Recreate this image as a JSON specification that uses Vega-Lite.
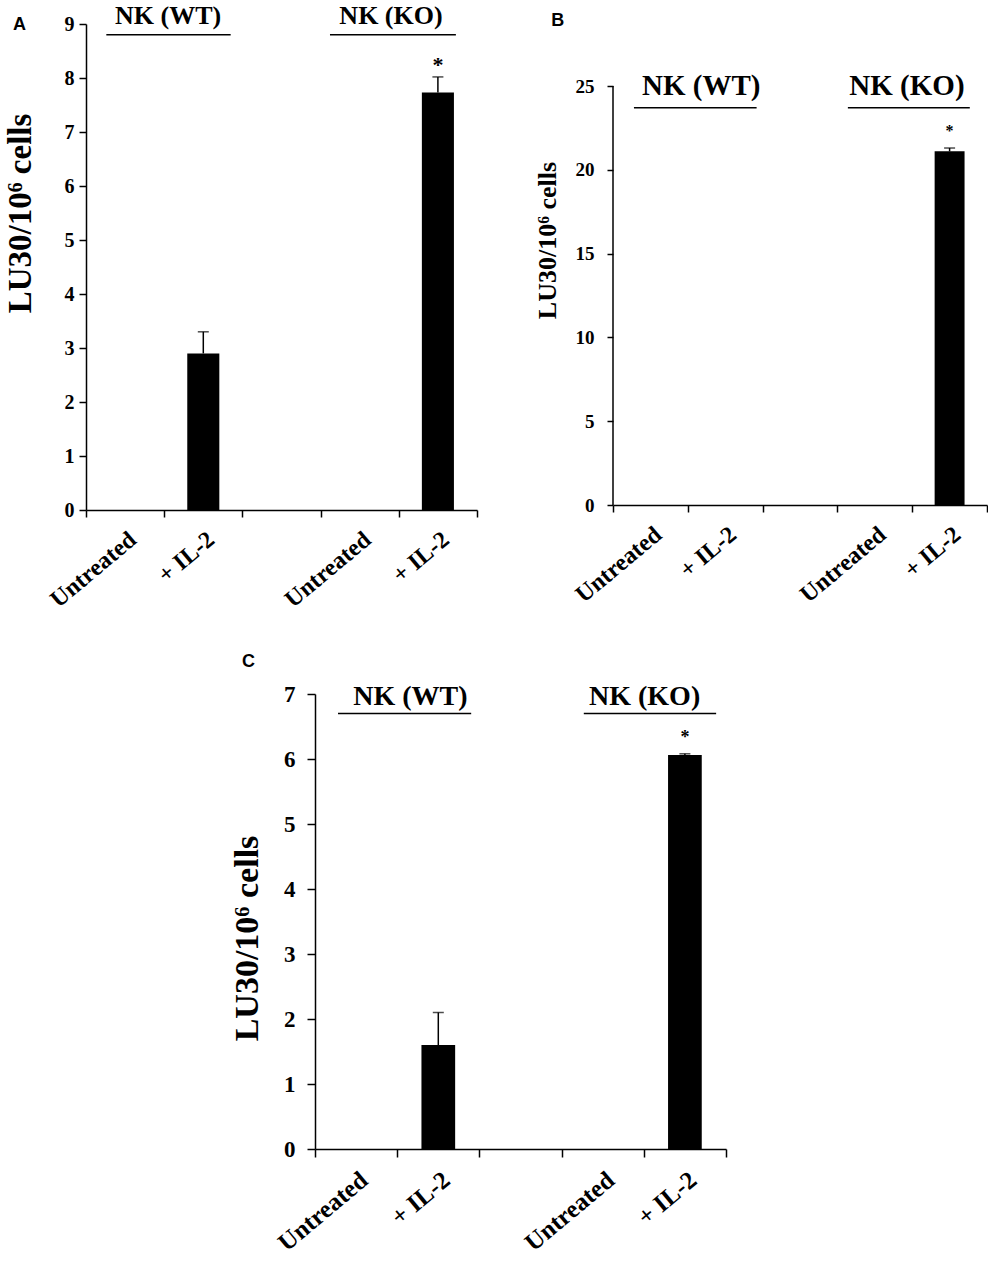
{
  "$schema": "https://vega.github.io/schema/vega-lite/v6.json",
  "background": "white",
  "padding": {"left": 4, "top": 2, "right": 0, "bottom": 0},
  "config": {
    "view": {"stroke": null},
    "font": "Liberation Serif",
    "axis": {
      "grid": false,
      "domainColor": "black",
      "domainWidth": 1.5,
      "tickColor": "black",
      "tickWidth": 1.5,
      "labelColor": "black",
      "titleColor": "black",
      "labelFont": "Liberation Serif",
      "titleFont": "Liberation Serif",
      "labelFontWeight": "bold",
      "titleFontWeight": "bold"
    }
  },
  "datasets": {
    "a": [
      {"key": "WT|Untreated", "value": 0},
      {"key": "WT|+ IL-2", "value": 2.9, "upper": 3.3},
      {"key": "KO|Untreated", "value": 0},
      {"key": "KO|+ IL-2", "value": 7.73, "upper": 8.02, "star": 8.25}
    ],
    "a_groups": [
      {"group": "NK (WT)", "tx": 1.05, "ty": 9.15, "x1": 0.26, "x2": 1.85, "line": 8.8},
      {"group": "NK (KO)", "tx": 3.9, "ty": 9.15, "x1": 3.12, "x2": 4.73, "line": 8.8}
    ],
    "b": [
      {"key": "WT|Untreated", "value": 0},
      {"key": "WT|+ IL-2", "value": 0},
      {"key": "KO|Untreated", "value": 0},
      {"key": "KO|+ IL-2", "value": 21.1, "upper": 21.3, "star": 22.3}
    ],
    "b_groups": [
      {"group": "NK (WT)", "tx": 1.18, "ty": 25.0, "x1": 0.28, "x2": 1.92, "line": 23.7},
      {"group": "NK (KO)", "tx": 3.93, "ty": 25.0, "x1": 3.14, "x2": 4.77, "line": 23.7}
    ],
    "b_axis": [
      {"x": 0, "y": 0, "y2": 25}
    ],
    "c": [
      {"key": "WT|Untreated", "value": 0},
      {"key": "WT|+ IL-2", "value": 1.6, "upper": 2.1},
      {"key": "KO|Untreated", "value": 0},
      {"key": "KO|+ IL-2", "value": 6.06, "upper": 6.08, "star": 6.32}
    ],
    "c_groups": [
      {"group": "NK (WT)", "tx": 1.16, "ty": 6.96, "x1": 0.28, "x2": 1.9, "line": 6.7},
      {"group": "NK (KO)", "tx": 4.01, "ty": 6.96, "x1": 3.27, "x2": 4.88, "line": 6.7}
    ]
  },
  "spacing": 40,
  "vconcat": [
    {
      "spacing": 56,
      "hconcat": [
        {
          "width": 391,
          "height": 486,
          "resolve": {"scale": {"x": "independent"}},
          "layer": [
            {
              "data": {"name": "a"},
              "encoding": {
                "x": {
                  "field": "key",
                  "type": "nominal",
                  "scale": {"domain": ["WT|Untreated", "WT|+ IL-2", "gap|", "KO|Untreated", "KO|+ IL-2"], "paddingInner": 0, "paddingOuter": 0},
                  "axis": {"title": null, "labelAngle": -40, "labelAlign": "right", "labelBaseline": "top", "labelExpr": "split(datum.value, '|')[1]", "tickBand": "extent", "labelFontSize": 24, "tickSize": 7, "labelPadding": 10}
                }
              },
              "layer": [
                {
                  "mark": {"type": "bar", "color": "black", "width": {"band": 0.41}},
                  "encoding": {
                    "y": {
                      "field": "value",
                      "type": "quantitative",
                      "scale": {"domain": [0, 9], "nice": false},
                      "axis": {"title": "LU30/10⁶ cells", "values": [0, 1, 2, 3, 4, 5, 6, 7, 8, 9], "format": "d", "titleFontSize": 33, "titleX": -66, "titleY": 189, "titleAngle": -90, "titleAlign": "center", "titleBaseline": "middle", "labelFontSize": 20, "tickSize": 7, "labelPadding": 5}
                    }
                  }
                },
                {
                  "transform": [{"filter": "isValid(datum.upper)"}],
                  "mark": {"type": "rule", "color": "black", "strokeWidth": 1.5},
                  "encoding": {"y": {"field": "value", "type": "quantitative"}, "y2": {"field": "upper"}}
                },
                {
                  "transform": [{"filter": "isValid(datum.upper)"}],
                  "mark": {"type": "tick", "color": "black", "thickness": 1.5, "size": 11},
                  "encoding": {"y": {"field": "upper", "type": "quantitative"}}
                },
                {
                  "transform": [{"filter": "isValid(datum.star)"}],
                  "mark": {"type": "text", "text": "*", "fontWeight": "bold", "fontSize": 22, "baseline": "middle", "color": "black"},
                  "encoding": {"y": {"field": "star", "type": "quantitative"}}
                }
              ]
            },
            {
              "data": {"name": "a_groups"},
              "layer": [
                {
                  "mark": {"type": "rule", "color": "black", "strokeWidth": 1.5},
                  "encoding": {
                    "x": {"field": "x1", "type": "quantitative", "scale": {"domain": [0, 5], "nice": false}, "axis": null},
                    "x2": {"field": "x2"},
                    "y": {"field": "line", "type": "quantitative"}
                  }
                },
                {
                  "mark": {"type": "text", "fontWeight": "bold", "fontSize": 26, "baseline": "middle", "align": "center", "color": "black"},
                  "encoding": {
                    "x": {"field": "tx", "type": "quantitative", "scale": {"domain": [0, 5], "nice": false}, "axis": null},
                    "y": {"field": "ty", "type": "quantitative"},
                    "text": {"field": "group"}
                  }
                }
              ]
            },
            {
              "data": {"values": [{"panel": "A", "px": -0.85, "py": 8.98}]},
              "mark": {"type": "text", "font": "Liberation Sans", "fontWeight": "bold", "fontSize": 18, "baseline": "middle", "align": "center", "color": "black"},
              "encoding": {
                "x": {"field": "px", "type": "quantitative", "scale": {"domain": [0, 5], "nice": false}, "axis": null},
                "y": {"field": "py", "type": "quantitative"},
                "text": {"field": "panel"}
              }
            }
          ]
        },
        {
          "width": 374,
          "height": 481,
          "resolve": {"scale": {"x": "independent"}},
          "layer": [
            {
              "data": {"name": "b"},
              "encoding": {
                "x": {
                  "field": "key",
                  "type": "nominal",
                  "scale": {"domain": ["WT|Untreated", "WT|+ IL-2", "gap|", "KO|Untreated", "KO|+ IL-2"], "paddingInner": 0, "paddingOuter": 0},
                  "axis": {"title": null, "labelAngle": -40, "labelAlign": "right", "labelBaseline": "top", "labelExpr": "split(datum.value, '|')[1]", "tickBand": "extent", "labelFontSize": 24, "tickSize": 7, "labelPadding": 10}
                }
              },
              "layer": [
                {
                  "mark": {"type": "bar", "color": "black", "width": {"band": 0.4}},
                  "encoding": {
                    "y": {
                      "field": "value",
                      "type": "quantitative",
                      "scale": {"domain": [0, 28.7], "nice": false},
                      "axis": {"title": "LU30/10⁶ cells", "values": [0, 5, 10, 15, 20, 25], "format": "d", "domain": false, "titleFontSize": 26, "titleX": -66, "titleY": 216, "titleAngle": -90, "titleAlign": "center", "titleBaseline": "middle", "labelFontSize": 19, "tickSize": 6, "labelPadding": 13}
                    }
                  }
                },
                {
                  "transform": [{"filter": "isValid(datum.upper)"}],
                  "mark": {"type": "rule", "color": "black", "strokeWidth": 1.5},
                  "encoding": {"y": {"field": "value", "type": "quantitative"}, "y2": {"field": "upper"}}
                },
                {
                  "transform": [{"filter": "isValid(datum.upper)"}],
                  "mark": {"type": "tick", "color": "black", "thickness": 1.5, "size": 11},
                  "encoding": {"y": {"field": "upper", "type": "quantitative"}}
                },
                {
                  "transform": [{"filter": "isValid(datum.star)"}],
                  "mark": {"type": "text", "text": "*", "fontWeight": "bold", "fontSize": 16, "baseline": "middle", "color": "black"},
                  "encoding": {"y": {"field": "star", "type": "quantitative"}}
                }
              ]
            },
            {
              "data": {"name": "b_axis"},
              "mark": {"type": "rule", "color": "black", "strokeWidth": 1.5},
              "encoding": {
                "x": {"field": "x", "type": "quantitative", "scale": {"domain": [0, 5], "nice": false}, "axis": null},
                "y": {"field": "y", "type": "quantitative"},
                "y2": {"field": "y2"}
              }
            },
            {
              "data": {"name": "b_groups"},
              "layer": [
                {
                  "mark": {"type": "rule", "color": "black", "strokeWidth": 1.5},
                  "encoding": {
                    "x": {"field": "x1", "type": "quantitative", "scale": {"domain": [0, 5], "nice": false}, "axis": null},
                    "x2": {"field": "x2"},
                    "y": {"field": "line", "type": "quantitative"}
                  }
                },
                {
                  "mark": {"type": "text", "fontWeight": "bold", "fontSize": 29, "baseline": "middle", "align": "center", "color": "black"},
                  "encoding": {
                    "x": {"field": "tx", "type": "quantitative", "scale": {"domain": [0, 5], "nice": false}, "axis": null},
                    "y": {"field": "ty", "type": "quantitative"},
                    "text": {"field": "group"}
                  }
                }
              ]
            },
            {
              "data": {"values": [{"panel": "B", "px": -0.74, "py": 28.9}]},
              "mark": {"type": "text", "font": "Liberation Sans", "fontWeight": "bold", "fontSize": 18, "baseline": "middle", "align": "center", "color": "black"},
              "encoding": {
                "x": {"field": "px", "type": "quantitative", "scale": {"domain": [0, 5], "nice": false}, "axis": null},
                "y": {"field": "py", "type": "quantitative"},
                "text": {"field": "panel"}
              }
            }
          ]
        }
      ]
    },
    {
      "spacing": 0,
      "hconcat": [
        {
          "width": 144,
          "height": 10,
          "data": {"values": []},
          "mark": {"type": "point", "opacity": 0},
          "encoding": {}
        },
        {
          "width": 411,
          "height": 455,
          "resolve": {"scale": {"x": "independent"}},
          "layer": [
            {
              "data": {"name": "c"},
              "encoding": {
                "x": {
                  "field": "key",
                  "type": "nominal",
                  "scale": {"domain": ["WT|Untreated", "WT|+ IL-2", "gap|", "KO|Untreated", "KO|+ IL-2"], "paddingInner": 0, "paddingOuter": 0},
                  "axis": {"title": null, "labelAngle": -40, "labelAlign": "right", "labelBaseline": "top", "labelExpr": "split(datum.value, '|')[1]", "tickBand": "extent", "labelFontSize": 25, "tickSize": 8, "labelPadding": 10}
                }
              },
              "layer": [
                {
                  "mark": {"type": "bar", "color": "black", "width": {"band": 0.41}},
                  "encoding": {
                    "y": {
                      "field": "value",
                      "type": "quantitative",
                      "scale": {"domain": [0, 7], "nice": false},
                      "axis": {"title": "LU30/10⁶ cells", "values": [0, 1, 2, 3, 4, 5, 6, 7], "format": "d", "titleFontSize": 34, "titleX": -68, "titleY": 244, "titleAngle": -90, "titleAlign": "center", "titleBaseline": "middle", "labelFontSize": 23, "tickSize": 8, "labelPadding": 12}
                    }
                  }
                },
                {
                  "transform": [{"filter": "isValid(datum.upper)"}],
                  "mark": {"type": "rule", "color": "black", "strokeWidth": 1.5},
                  "encoding": {"y": {"field": "value", "type": "quantitative"}, "y2": {"field": "upper"}}
                },
                {
                  "transform": [{"filter": "isValid(datum.upper)"}],
                  "mark": {"type": "tick", "color": "black", "thickness": 1.5, "size": 11},
                  "encoding": {"y": {"field": "upper", "type": "quantitative"}}
                },
                {
                  "transform": [{"filter": "isValid(datum.star)"}],
                  "mark": {"type": "text", "text": "*", "fontWeight": "bold", "fontSize": 18, "baseline": "middle", "color": "black"},
                  "encoding": {"y": {"field": "star", "type": "quantitative"}}
                }
              ]
            },
            {
              "data": {"name": "c_groups"},
              "layer": [
                {
                  "mark": {"type": "rule", "color": "black", "strokeWidth": 1.5},
                  "encoding": {
                    "x": {"field": "x1", "type": "quantitative", "scale": {"domain": [0, 5], "nice": false}, "axis": null},
                    "x2": {"field": "x2"},
                    "y": {"field": "line", "type": "quantitative"}
                  }
                },
                {
                  "mark": {"type": "text", "fontWeight": "bold", "fontSize": 28, "baseline": "middle", "align": "center", "color": "black"},
                  "encoding": {
                    "x": {"field": "tx", "type": "quantitative", "scale": {"domain": [0, 5], "nice": false}, "axis": null},
                    "y": {"field": "ty", "type": "quantitative"},
                    "text": {"field": "group"}
                  }
                }
              ]
            },
            {
              "data": {"values": [{"panel": "C", "px": -0.81, "py": 7.5}]},
              "mark": {"type": "text", "font": "Liberation Sans", "fontWeight": "bold", "fontSize": 18, "baseline": "middle", "align": "center", "color": "black"},
              "encoding": {
                "x": {"field": "px", "type": "quantitative", "scale": {"domain": [0, 5], "nice": false}, "axis": null},
                "y": {"field": "py", "type": "quantitative"},
                "text": {"field": "panel"}
              }
            }
          ]
        }
      ]
    }
  ]
}
